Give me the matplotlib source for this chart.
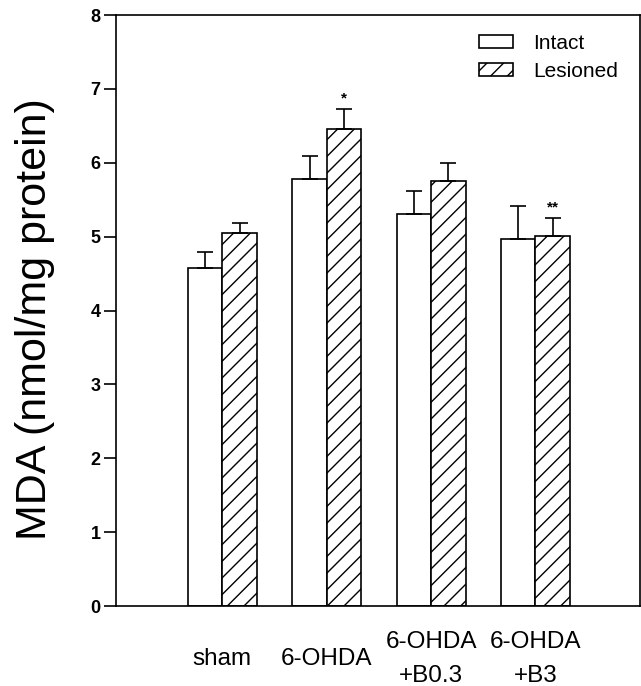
import matplotlib.pyplot as plt
import numpy as np

groups = ['sham', '6-OHDA', '6-OHDA\n+B0.3', '6-OHDA\n+B3']
intact = [4.58, 5.78, 5.31, 4.97]
intact_err = [0.21, 0.31, 0.31, 0.45]
lesioned = [5.05, 6.46, 5.76, 5.01]
lesioned_err = [0.13, 0.27, 0.24, 0.24]
marks = ['', '*', '', '**']

plt.rcParams['font.family'] = ['Liberation Sans', 'DejaVu Sans']
plt.rcParams['hatch.linewidth'] = 1.0

fig = plt.figure(figsize=(6.41, 6.86), dpi=100)
ax = fig.add_axes([0.181, 0.1166, 0.817, 0.8615])

x = np.arange(len(groups))
w = 0.33
ax.bar(x - w/2, intact, w, color='white', edgecolor='black', linewidth=1.2, label='Intact')
ax.bar(x + w/2, lesioned, w, color='white', edgecolor='black', linewidth=1.2, hatch='//', label='Lesioned')
ax.errorbar(x - w/2, intact, yerr=[np.zeros(4), intact_err], fmt='none', ecolor='black',
            elinewidth=1.2, capsize=6, capthick=1.2)
ax.errorbar(x + w/2, lesioned, yerr=[np.zeros(4), lesioned_err], fmt='none', ecolor='black',
            elinewidth=1.2, capsize=6, capthick=1.2)
for i in range(len(groups)):
	if marks[i]:
		ax.text(x[i] + w/2, lesioned[i] + lesioned_err[i] + 0.05, marks[i], ha='center', va='bottom',
		        fontsize=11, fontweight='bold')

ax.set_xlim(-1.02, 4.0)
ax.set_ylim(0, 8)
ax.set_yticks(range(9))
ax.set_xticks(x)
ax.set_xticklabels(groups, fontsize=17.5, linespacing=1.7)
for lab in ax.get_xticklabels():
	lab.set_verticalalignment('center')
ax.tick_params(axis='x', length=0, pad=38)
ax.tick_params(axis='y', length=9, width=1.2, labelsize=13, pad=2)
for lab in ax.get_yticklabels():
	lab.set_fontweight('bold')
for s in ax.spines.values():
	s.set_linewidth(1.2)
ax.set_ylabel('MDA (nmol/mg protein)', fontsize=31)
ax.yaxis.set_label_coords(-0.155, 0.485)
ax.yaxis.label.set_verticalalignment('center')

ax.legend(loc='upper right', bbox_to_anchor=(0.995, 1.0), frameon=False, fontsize=15,
          handlelength=1.6, handleheight=0.6, handletextpad=1.0, labelspacing=0.45)

fig.savefig('out.png', dpi=100)
